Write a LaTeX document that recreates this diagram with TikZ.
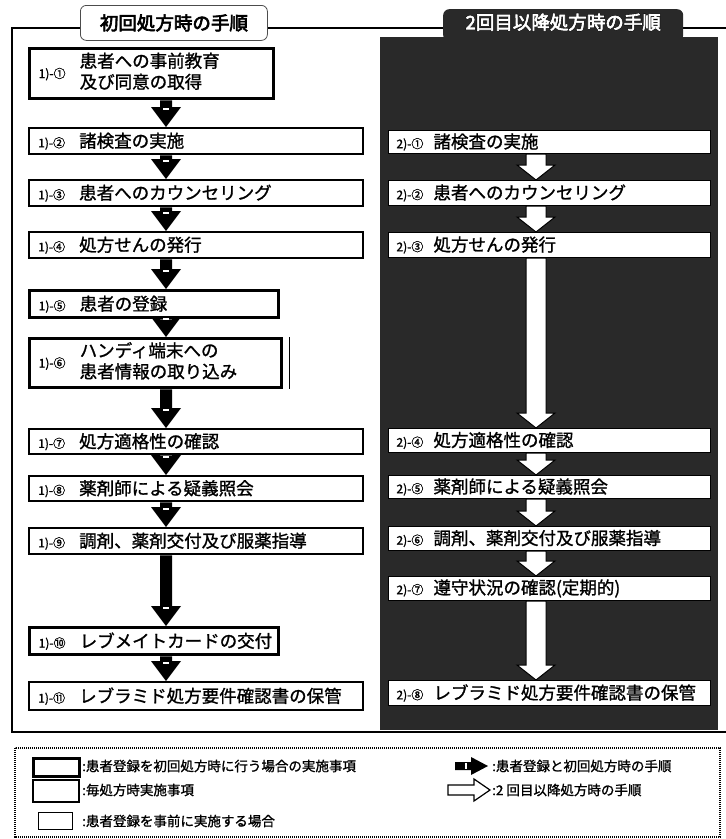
\documentclass[tikz,border=0pt]{standalone}
\usepackage{fontspec}
\setmainfont{Noto Sans CJK JP}
\newfontfamily\jpb{Noto Sans CJK JP}[FakeBold=1.2]
\newfontfamily\jph{Noto Sans CJK JP}[FakeBold=3.5]
\newfontfamily\jpo{Noto Sans CJK JP}[FakeBold=7]
\usetikzlibrary{calc}
\definecolor{panel}{gray}{0.16}
\tikzset{
  every node/.style={inner sep=0pt},
  boxbase/.style={anchor=north west, fill=white, inner xsep=9pt, inner ysep=0pt, align=left,
    font=\jpb\fontsize{17.5}{21}\selectfont},
  boxA/.style={boxbase, draw=black, line width=3.4pt},
  boxB/.style={boxbase, draw=black, line width=2.4pt},
  boxC/.style={boxbase, draw=black, line width=1pt, inner xsep=8pt},
  lgtext/.style={anchor=west, font=\jpb\fontsize{13.5}{15}\selectfont},
}
\newcommand\lb[2]{\makebox[#1][l]{\fontsize{12}{14}\selectfont #2}}
\newcommand\blkarr[2]{%
  \fill[black] let \p1=#1, \p2=#2 in (\x1-6pt,\y1) -- (\x1+6pt,\y1) -- (\x1+6pt,\y2+20pt) -- (\x1+15pt,\y2+20pt) -- (\x1,\y2) -- (\x1-15pt,\y2+20pt) -- (\x1-6pt,\y2+20pt) -- cycle;
  \fill[white] let \p1=#1, \p2=#2 in (\x1-3pt,\y2+17pt) rectangle (\x1+3pt,\y2+19pt);}
\newcommand\wharr[2]{%
  \filldraw[fill=white, draw=black, line width=1pt] let \p1=#1, \p2=#2 in (\x1-10pt,\y1) -- (\x1+10pt,\y1) -- (\x1+10pt,\y2+15pt) -- (\x1+19pt,\y2+15pt) -- (\x1,\y2) -- (\x1-19pt,\y2+15pt) -- (\x1-10pt,\y2+15pt) -- cycle;}
\begin{document}
\begin{tikzpicture}[x=1pt,y=-1pt]
\useasboundingbox (0,0) rectangle (726,839);
\fill[white] (0,0) rectangle (726,839);
% dark panel
\fill[panel] (380,37) rectangle (718,730);
% frame
\draw[line width=1.6pt] (726,28) -- (12,28) -- (12,732) -- (726,732);
% tabs
\node[draw=black!70, line width=0.8pt, fill=white, rounded corners=6pt, minimum width=187pt, minimum height=35pt, anchor=north west, font=\jph\fontsize{18.5}{20}\selectfont] (tabL) at (80,5) {初回処方時の手順};
\node[fill=panel, rounded corners=6pt, minimum width=240pt, minimum height=32pt, anchor=north west] (tabR) at (443,9) {};
\node[font=\jpo\fontsize{18.5}{20}\selectfont, text=black] (tabRo) at ([yshift=3pt]tabR.center) {2回目以降処方時の手順};
\node[font=\jph\fontsize{18.5}{20}\selectfont, text=white] (tabRt) at ([yshift=3pt]tabR.center) {2回目以降処方時の手順};
% left column
\coordinate (lx) at (166,0);
\node[boxA, minimum width=244pt, minimum height=50pt, text width=226pt] (b1) at (28,47) {\lb{41pt}{1)-①}\begin{tabular}[c]{@{}l@{}}患者への事前教育\\及び同意の取得\end{tabular}};
\node[boxB, minimum width=334pt, minimum height=26pt, text width=316pt] (b2) at (28,127) {\lb{41pt}{1)-②}諸検査の実施};
\node[boxB, minimum width=334pt, minimum height=26pt, text width=316pt] (b3) at (28,179) {\lb{41pt}{1)-③}患者へのカウンセリング};
\node[boxB, minimum width=334pt, minimum height=26pt, text width=316pt] (b4) at (28,231) {\lb{41pt}{1)-④}処方せんの発行};
\node[boxA, minimum width=249pt, minimum height=27pt, text width=231pt] (b5) at (28,289) {\lb{41pt}{1)-⑤}患者の登録};
\node[boxA, minimum width=252pt, minimum height=49pt, text width=234pt] (b6) at (28,337) {\lb{41pt}{1)-⑥}\begin{tabular}[c]{@{}l@{}}ハンディ端末への\\患者情報の取り込み\end{tabular}};
\node[boxB, minimum width=334pt, minimum height=25pt, text width=316pt] (b7) at (28,428) {\lb{41pt}{1)-⑦}処方適格性の確認};
\node[boxB, minimum width=334pt, minimum height=25pt, text width=316pt] (b8) at (28,475) {\lb{41pt}{1)-⑧}薬剤師による疑義照会};
\node[boxB, minimum width=334pt, minimum height=26pt, text width=316pt] (b9) at (28,527) {\lb{41pt}{1)-⑨}調剤、薬剤交付及び服薬指導};
\node[boxA, minimum width=249pt, minimum height=27pt, text width=231pt] (b10) at (28,626) {\lb{41pt}{1)-⑩}レブメイトカードの交付};
\node[boxB, minimum width=334pt, minimum height=28pt, text width=316pt] (b11) at (28,681) {\lb{41pt}{1)-⑪}レブラミド処方要件確認書の保管};
\draw[line width=1.8pt] ([xshift=6pt]b6.north east) -- ([xshift=6pt]b6.south east);
\blkarr{(b1.south -| lx)}{(b2.north -| lx)}
\blkarr{(b2.south -| lx)}{(b3.north -| lx)}
\blkarr{(b3.south -| lx)}{(b4.north -| lx)}
\blkarr{(b4.south -| lx)}{(b5.north -| lx)}
\blkarr{(b5.south -| lx)}{(b6.north -| lx)}
\blkarr{(b6.south -| lx)}{(b7.north -| lx)}
\blkarr{(b7.south -| lx)}{(b8.north -| lx)}
\blkarr{(b8.south -| lx)}{(b9.north -| lx)}
\blkarr{(b9.south -| lx)}{(b10.north -| lx)}
\blkarr{(b10.south -| lx)}{(b11.north -| lx)}
% right column
\coordinate (rx) at (536,0);
\node[boxC, minimum width=322pt, minimum height=23pt, text width=306pt] (c1) at (388,130) {\lb{37pt}{2)-①}諸検査の実施};
\node[boxC, minimum width=322pt, minimum height=25pt, text width=306pt] (c2) at (388,180) {\lb{37pt}{2)-②}患者へのカウンセリング};
\node[boxC, minimum width=322pt, minimum height=25pt, text width=306pt] (c3) at (388,232) {\lb{37pt}{2)-③}処方せんの発行};
\node[boxC, minimum width=322pt, minimum height=24pt, text width=306pt] (c4) at (388,428) {\lb{37pt}{2)-④}処方適格性の確認};
\node[boxC, minimum width=322pt, minimum height=23pt, text width=306pt] (c5) at (388,475) {\lb{37pt}{2)-⑤}薬剤師による疑義照会};
\node[boxC, minimum width=322pt, minimum height=24pt, text width=306pt] (c6) at (388,526) {\lb{37pt}{2)-⑥}調剤、薬剤交付及び服薬指導};
\node[boxC, minimum width=322pt, minimum height=24pt, text width=306pt] (c7) at (388,576) {\lb{37pt}{2)-⑦}遵守状況の確認(定期的)};
\node[boxC, minimum width=322pt, minimum height=25pt, text width=306pt] (c8) at (388,680) {\lb{37pt}{2)-⑧}レブラミド処方要件確認書の保管};
\wharr{(c1.south -| rx)}{(c2.north -| rx)}
\wharr{(c2.south -| rx)}{(c3.north -| rx)}
\wharr{(c3.south -| rx)}{(c4.north -| rx)}
\wharr{(c4.south -| rx)}{(c5.north -| rx)}
\wharr{(c5.south -| rx)}{(c6.north -| rx)}
\wharr{(c6.south -| rx)}{(c7.north -| rx)}
\wharr{(c7.south -| rx)}{(c8.north -| rx)}
% legend
\draw[line width=1.6pt, dash pattern=on 1.2pt off 0.8pt] (15,748) rectangle (720,837);
\node[draw, line width=3.4pt, minimum width=46pt, minimum height=18pt, anchor=north west] (lg1) at (32,757) {};
\node[draw, line width=2.4pt, minimum width=46pt, minimum height=22pt, anchor=north west] (lg2) at (32,779) {};
\node[draw, line width=1pt, minimum width=34pt, minimum height=17pt, anchor=north west] (lg3) at (38,812) {};
\node[lgtext] (lt1) at (82,766) {:患者登録を初回処方時に行う場合の実施事項};
\node[lgtext] (lt2) at (82,790) {:毎処方時実施事項};
\node[lgtext] (lt3) at (82,821) {:患者登録を事前に実施する場合};
\node[lgtext] (lt4) at (492,766) {:患者登録と初回処方時の手順};
\node[lgtext] (lt5) at (492,790) {:2 回目以降処方時の手順};
\fill[black] (455,762) -- (471,762) -- (471,757) -- (488,766) -- (471,775) -- (471,770) -- (455,770) -- cycle;
\fill[white] (465,763) rectangle (467,769);
\filldraw[fill=white, draw=black, line width=1.2pt] (448,785) -- (474,785) -- (474,779) -- (490,790) -- (474,801) -- (474,795) -- (448,795) -- cycle;
\end{tikzpicture}
\end{document}
